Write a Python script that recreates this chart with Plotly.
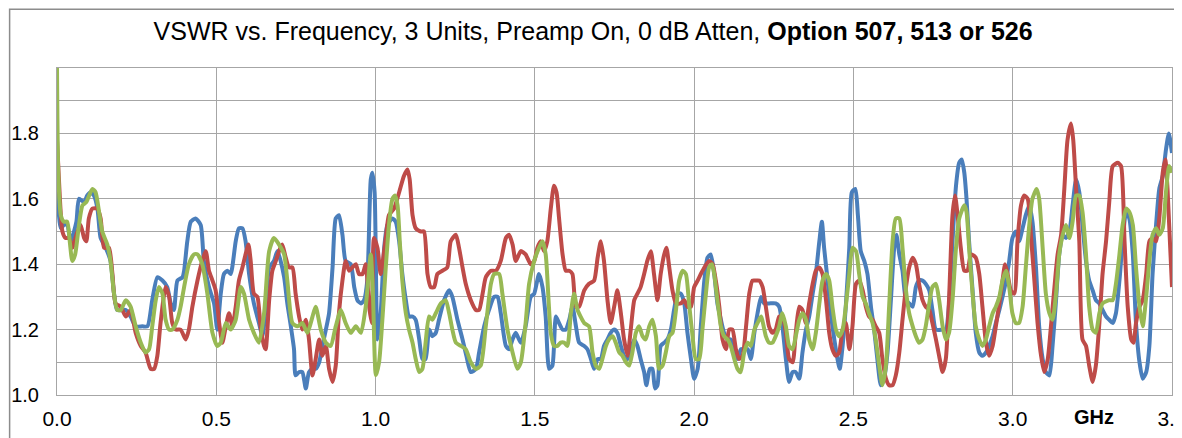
import plotly.graph_objects as go

# Excel-style palette
COLORS = {
    "blue": "#4A7EBB",
    "red": "#BE4B48",
    "green": "#98B954",
    "grid": "#A6A6A6",
    "frame": "#8C8C8C",
    "text": "#000000",
}

TITLE = "VSWR vs. Frequency, 3 Units, Preamp On, 0 dB Atten, <b>Option 507, 513 or 526</b>"

X_TICKS = [0.0, 0.5, 1.0, 1.5, 2.0, 2.5, 3.0, 3.5]
X_TICK_TEXT = ["0.0", "0.5", "1.0", "1.5", "2.0", "2.5", "3.0", "3.5"]
Y_TICKS = [1.0, 1.1, 1.2, 1.3, 1.4, 1.5, 1.6, 1.7, 1.8, 1.9, 2.0]
Y_TICK_TEXT = ["1.0", "", "1.2", "", "1.4", "", "1.6", "", "1.8", "", ""]

# Unit 1 (blue)
BLUE_GHZ = [
    0.000, 0.012, 0.022, 0.032, 0.043, 0.061, 0.069, 0.085, 0.095, 0.106, 0.116, 0.127, 0.137, 0.153,
    0.168, 0.179, 0.189, 0.216, 0.231, 0.247, 0.268, 0.284, 0.299, 0.315, 0.331, 0.346, 0.357, 0.367,
    0.378, 0.394, 0.399, 0.409, 0.420, 0.435, 0.451, 0.461, 0.477, 0.493, 0.503, 0.514, 0.524, 0.535,
    0.545, 0.561, 0.571, 0.582, 0.592, 0.603, 0.618, 0.634, 0.645, 0.655, 0.666, 0.681, 0.692, 0.702,
    0.713, 0.723, 0.734, 0.744, 0.749, 0.760, 0.770, 0.781, 0.791, 0.802, 0.812, 0.823, 0.833, 0.844,
    0.854, 0.865, 0.875, 0.885, 0.896, 0.906, 0.922, 0.933, 0.943, 0.954, 0.964, 0.974, 0.985, 0.990,
    0.997, 1.006, 1.016, 1.027, 1.037, 1.053, 1.063, 1.074, 1.084, 1.095, 1.105, 1.116, 1.126, 1.137,
    1.147, 1.157, 1.168, 1.178, 1.189, 1.199, 1.215, 1.231, 1.241, 1.257, 1.273, 1.285, 1.299, 1.315,
    1.325, 1.341, 1.356, 1.372, 1.383, 1.393, 1.409, 1.419, 1.430, 1.440, 1.456, 1.471, 1.487, 1.498,
    1.513, 1.524, 1.534, 1.545, 1.555, 1.566, 1.576, 1.587, 1.597, 1.608, 1.618, 1.629, 1.639, 1.655,
    1.665, 1.676, 1.686, 1.697, 1.707, 1.717, 1.728, 1.738, 1.749, 1.759, 1.770, 1.780, 1.791, 1.801,
    1.812, 1.822, 1.832, 1.843, 1.850, 1.861, 1.869, 1.877, 1.885, 1.895, 1.906, 1.916, 1.927, 1.937,
    1.948, 1.958, 1.969, 1.979, 1.990, 2.000, 2.011, 2.021, 2.032, 2.042, 2.052, 2.063, 2.073, 2.084,
    2.094, 2.105, 2.115, 2.126, 2.136, 2.147, 2.157, 2.168, 2.178, 2.189, 2.199, 2.210, 2.220, 2.235,
    2.256, 2.267, 2.277, 2.288, 2.298, 2.309, 2.319, 2.330, 2.340, 2.351, 2.361, 2.372, 2.382, 2.393,
    2.401, 2.408, 2.419, 2.429, 2.440, 2.450, 2.457, 2.466, 2.476, 2.487, 2.495, 2.506, 2.514, 2.523,
    2.534, 2.544, 2.555, 2.565, 2.575, 2.586, 2.596, 2.607, 2.617, 2.628, 2.635, 2.644, 2.654, 2.665,
    2.675, 2.686, 2.696, 2.706, 2.717, 2.727, 2.738, 2.748, 2.759, 2.780, 2.790, 2.801, 2.811, 2.822,
    2.832, 2.840, 2.848, 2.855, 2.863, 2.874, 2.884, 2.895, 2.905, 2.916, 2.926, 2.937, 2.947, 2.958,
    2.968, 2.979, 2.989, 2.999, 3.010, 3.020, 3.031, 3.041, 3.052, 3.062, 3.073, 3.083, 3.094, 3.104,
    3.115, 3.125, 3.136, 3.146, 3.157, 3.167, 3.178, 3.188, 3.199, 3.209, 3.219, 3.230, 3.240, 3.251,
    3.261, 3.272, 3.282, 3.293, 3.303, 3.314, 3.324, 3.335, 3.345, 3.356, 3.366, 3.377, 3.387, 3.398,
    3.408, 3.419, 3.429, 3.439, 3.450, 3.460, 3.471, 3.481, 3.490, 3.500,
]
BLUE_VSWR = [
    1.66, 1.51, 1.52, 1.52, 1.47, 1.53, 1.60, 1.59, 1.61, 1.62, 1.61, 1.57, 1.48, 1.45,
    1.41, 1.31, 1.26, 1.26, 1.24, 1.21, 1.21, 1.21, 1.29, 1.36, 1.35, 1.33, 1.28, 1.26,
    1.35, 1.36, 1.38, 1.47, 1.53, 1.54, 1.52, 1.41, 1.33, 1.28, 1.20, 1.31, 1.37, 1.38,
    1.37, 1.47, 1.51, 1.51, 1.47, 1.37, 1.28, 1.22, 1.18, 1.27, 1.39, 1.41, 1.44, 1.41,
    1.36, 1.28, 1.21, 1.14, 1.06, 1.07, 1.07, 1.02, 1.07, 1.08, 1.08, 1.10, 1.15, 1.20,
    1.25, 1.39, 1.54, 1.55, 1.49, 1.41, 1.40, 1.33, 1.29, 1.28, 1.29, 1.35, 1.66, 1.68,
    1.62, 1.17, 1.25, 1.45, 1.52, 1.54, 1.53, 1.47, 1.37, 1.29, 1.24, 1.24, 1.23, 1.17,
    1.11, 1.11, 1.20, 1.18, 1.19, 1.23, 1.29, 1.32, 1.30, 1.23, 1.17, 1.12, 1.07, 1.08,
    1.13, 1.21, 1.26, 1.30, 1.30, 1.25, 1.15, 1.14, 1.17, 1.19, 1.16, 1.21, 1.30, 1.31,
    1.37, 1.33, 1.24, 1.08, 1.09, 1.24, 1.22, 1.20, 1.20, 1.23, 1.27, 1.21, 1.16, 1.15,
    1.14, 1.11, 1.08, 1.11, 1.11, 1.15, 1.17, 1.19, 1.20, 1.19, 1.15, 1.12, 1.11, 1.14,
    1.17, 1.15, 1.11, 1.07, 1.03, 1.08, 1.08, 1.02, 1.03, 1.15, 1.16, 1.17, 1.20, 1.26,
    1.31, 1.31, 1.28, 1.19, 1.11, 1.05, 1.08, 1.21, 1.35, 1.42, 1.43, 1.37, 1.28, 1.23,
    1.19, 1.17, 1.17, 1.15, 1.11, 1.14, 1.14, 1.14, 1.11, 1.19, 1.25, 1.30, 1.28, 1.28,
    1.28, 1.27, 1.21, 1.11, 1.04, 1.07, 1.07, 1.05, 1.13, 1.20, 1.24, 1.31, 1.37, 1.47,
    1.53, 1.45, 1.35, 1.25, 1.17, 1.11, 1.08, 1.15, 1.27, 1.45, 1.62, 1.63, 1.55, 1.44,
    1.41, 1.37, 1.27, 1.20, 1.11, 1.03, 1.05, 1.13, 1.28, 1.45, 1.49, 1.43, 1.38, 1.29,
    1.28, 1.27, 1.33, 1.35, 1.35, 1.34, 1.32, 1.26, 1.20, 1.20, 1.20, 1.29, 1.47, 1.64,
    1.71, 1.72, 1.68, 1.60, 1.47, 1.32, 1.19, 1.13, 1.12, 1.13, 1.15, 1.18, 1.22, 1.26,
    1.30, 1.35, 1.41, 1.48, 1.50, 1.47, 1.51, 1.55, 1.58, 1.53, 1.39, 1.21, 1.11, 1.07,
    1.06, 1.15, 1.29, 1.43, 1.49, 1.48, 1.50, 1.58, 1.66, 1.62, 1.52, 1.41, 1.35, 1.32,
    1.29, 1.28, 1.26, 1.24, 1.23, 1.22, 1.25, 1.35, 1.47, 1.56, 1.54, 1.43, 1.22, 1.10,
    1.05, 1.07, 1.15, 1.37, 1.52, 1.63, 1.67, 1.75, 1.80, 1.74,
]

# Unit 2 (red)
RED_GHZ = [
    0.000, 0.006, 0.017, 0.027, 0.038, 0.048, 0.061, 0.074, 0.085, 0.092, 0.100, 0.111, 0.127, 0.137,
    0.148, 0.163, 0.174, 0.184, 0.200, 0.216, 0.231, 0.247, 0.263, 0.278, 0.294, 0.305, 0.315, 0.325,
    0.341, 0.352, 0.362, 0.373, 0.388, 0.404, 0.414, 0.425, 0.441, 0.456, 0.467, 0.477, 0.488, 0.498,
    0.509, 0.519, 0.530, 0.540, 0.551, 0.561, 0.571, 0.582, 0.592, 0.601, 0.608, 0.618, 0.629, 0.639,
    0.650, 0.655, 0.666, 0.676, 0.687, 0.697, 0.707, 0.718, 0.728, 0.739, 0.749, 0.760, 0.770, 0.781,
    0.791, 0.802, 0.812, 0.823, 0.833, 0.844, 0.854, 0.865, 0.875, 0.885, 0.896, 0.906, 0.917, 0.927,
    0.938, 0.948, 0.959, 0.969, 0.980, 0.988, 0.995, 1.006, 1.016, 1.032, 1.042, 1.058, 1.074, 1.089,
    1.100, 1.107, 1.116, 1.126, 1.142, 1.152, 1.163, 1.173, 1.184, 1.194, 1.210, 1.225, 1.236, 1.252,
    1.262, 1.273, 1.283, 1.299, 1.315, 1.325, 1.336, 1.346, 1.362, 1.378, 1.393, 1.409, 1.419, 1.430,
    1.440, 1.456, 1.471, 1.487, 1.498, 1.508, 1.518, 1.529, 1.539, 1.550, 1.560, 1.568, 1.576, 1.587,
    1.597, 1.608, 1.618, 1.629, 1.639, 1.655, 1.670, 1.686, 1.697, 1.707, 1.717, 1.728, 1.738, 1.749,
    1.759, 1.770, 1.780, 1.791, 1.801, 1.812, 1.822, 1.832, 1.843, 1.853, 1.864, 1.874, 1.885, 1.895,
    1.906, 1.913, 1.922, 1.932, 1.943, 1.958, 1.969, 1.979, 1.990, 2.000, 2.011, 2.021, 2.032, 2.047,
    2.058, 2.068, 2.079, 2.089, 2.100, 2.110, 2.120, 2.131, 2.141, 2.152, 2.162, 2.173, 2.183, 2.194,
    2.204, 2.215, 2.225, 2.235, 2.246, 2.256, 2.267, 2.277, 2.288, 2.298, 2.309, 2.319, 2.330, 2.340,
    2.351, 2.361, 2.372, 2.382, 2.393, 2.403, 2.414, 2.424, 2.434, 2.445, 2.455, 2.466, 2.476, 2.487,
    2.497, 2.508, 2.518, 2.529, 2.539, 2.549, 2.560, 2.570, 2.581, 2.591, 2.602, 2.612, 2.623, 2.633,
    2.644, 2.654, 2.665, 2.675, 2.686, 2.696, 2.706, 2.717, 2.727, 2.738, 2.748, 2.759, 2.769, 2.780,
    2.790, 2.800, 2.811, 2.819, 2.827, 2.837, 2.848, 2.858, 2.869, 2.884, 2.895, 2.905, 2.916, 2.926,
    2.937, 2.947, 2.958, 2.968, 2.976, 2.984, 2.994, 3.005, 3.015, 3.026, 3.036, 3.047, 3.057, 3.068,
    3.078, 3.089, 3.099, 3.110, 3.120, 3.131, 3.141, 3.152, 3.162, 3.172, 3.183, 3.190, 3.199, 3.209,
    3.219, 3.230, 3.240, 3.251, 3.261, 3.272, 3.282, 3.293, 3.303, 3.314, 3.330, 3.340, 3.351, 3.361,
    3.372, 3.379, 3.387, 3.398, 3.408, 3.419, 3.429, 3.439, 3.450, 3.460, 3.471, 3.479, 3.486, 3.500,
]
RED_VSWR = [
    1.78, 1.66, 1.50, 1.48, 1.48, 1.45, 1.49, 1.52, 1.48, 1.47, 1.54, 1.57, 1.57, 1.54,
    1.45, 1.45, 1.37, 1.28, 1.27, 1.24, 1.26, 1.19, 1.15, 1.13, 1.08, 1.08, 1.12, 1.22,
    1.33, 1.30, 1.22, 1.20, 1.20, 1.17, 1.20, 1.27, 1.35, 1.41, 1.44, 1.38, 1.35, 1.32,
    1.22, 1.16, 1.21, 1.25, 1.21, 1.27, 1.35, 1.39, 1.43, 1.46, 1.41, 1.31, 1.30, 1.21,
    1.15, 1.14, 1.29, 1.38, 1.41, 1.44, 1.46, 1.42, 1.39, 1.39, 1.31, 1.24, 1.20, 1.23,
    1.17, 1.06, 1.11, 1.17, 1.12, 1.15, 1.08, 1.04, 1.09, 1.25, 1.35, 1.41, 1.38, 1.39,
    1.40, 1.37, 1.37, 1.40, 1.27, 1.22, 1.48, 1.45, 1.37, 1.48, 1.55, 1.57, 1.62, 1.67,
    1.69, 1.66, 1.55, 1.51, 1.50, 1.50, 1.37, 1.33, 1.33, 1.37, 1.38, 1.39, 1.47, 1.49,
    1.45, 1.39, 1.34, 1.29, 1.26, 1.26, 1.31, 1.36, 1.38, 1.38, 1.41, 1.48, 1.49, 1.46,
    1.41, 1.44, 1.43, 1.40, 1.41, 1.45, 1.47, 1.44, 1.47, 1.57, 1.64, 1.62, 1.54, 1.43,
    1.38, 1.38, 1.37, 1.27, 1.27, 1.32, 1.34, 1.35, 1.42, 1.47, 1.41, 1.29, 1.22, 1.27,
    1.32, 1.25, 1.17, 1.12, 1.20, 1.29, 1.31, 1.33, 1.37, 1.41, 1.44, 1.37, 1.29, 1.37,
    1.43, 1.45, 1.39, 1.32, 1.28, 1.28, 1.29, 1.27, 1.27, 1.33, 1.35, 1.37, 1.39, 1.41,
    1.40, 1.35, 1.27, 1.17, 1.14, 1.20, 1.20, 1.14, 1.11, 1.12, 1.20, 1.31, 1.35, 1.35,
    1.35, 1.33, 1.27, 1.21, 1.19, 1.20, 1.24, 1.24, 1.19, 1.11, 1.10, 1.19, 1.27, 1.26,
    1.22, 1.28, 1.34, 1.38, 1.39, 1.37, 1.29, 1.19, 1.14, 1.12, 1.13, 1.20, 1.22, 1.14,
    1.21, 1.34, 1.35, 1.32, 1.27, 1.24, 1.23, 1.21, 1.19, 1.11, 1.05, 1.03, 1.03, 1.06,
    1.13, 1.23, 1.33, 1.39, 1.42, 1.40, 1.34, 1.29, 1.27, 1.26, 1.22, 1.17, 1.12, 1.07,
    1.11, 1.29, 1.55, 1.61, 1.55, 1.45, 1.38, 1.38, 1.43, 1.42, 1.37, 1.27, 1.16, 1.12,
    1.15, 1.21, 1.28, 1.35, 1.40, 1.37, 1.32, 1.31, 1.47, 1.58, 1.61, 1.60, 1.49, 1.35,
    1.22, 1.12, 1.07, 1.11, 1.21, 1.33, 1.43, 1.49, 1.63, 1.78, 1.83, 1.78, 1.63, 1.47,
    1.17, 1.15, 1.09, 1.04, 1.09, 1.22, 1.37, 1.47, 1.59, 1.70, 1.71, 1.70, 1.47, 1.27,
    1.17, 1.16, 1.22, 1.27, 1.29, 1.37, 1.47, 1.48, 1.47, 1.54, 1.68, 1.72, 1.63, 1.33,
]

# Unit 3 (green)
GREEN_GHZ = [
    0.000, 0.004, 0.012, 0.022, 0.032, 0.040, 0.048, 0.057, 0.069, 0.080, 0.092, 0.111, 0.121, 0.132,
    0.142, 0.158, 0.168, 0.179, 0.189, 0.200, 0.216, 0.231, 0.247, 0.263, 0.278, 0.289, 0.299, 0.310,
    0.320, 0.331, 0.341, 0.352, 0.362, 0.378, 0.388, 0.399, 0.414, 0.430, 0.441, 0.456, 0.472, 0.488,
    0.503, 0.514, 0.530, 0.545, 0.561, 0.577, 0.587, 0.603, 0.618, 0.634, 0.650, 0.666, 0.681, 0.697,
    0.713, 0.723, 0.739, 0.755, 0.770, 0.786, 0.802, 0.812, 0.828, 0.844, 0.859, 0.875, 0.891, 0.906,
    0.922, 0.938, 0.954, 0.969, 0.985, 0.992, 1.001, 1.011, 1.022, 1.032, 1.042, 1.053, 1.061, 1.069,
    1.076, 1.084, 1.095, 1.105, 1.116, 1.126, 1.137, 1.147, 1.157, 1.168, 1.178, 1.189, 1.205, 1.220,
    1.231, 1.241, 1.252, 1.268, 1.283, 1.299, 1.315, 1.330, 1.346, 1.362, 1.372, 1.388, 1.398, 1.414,
    1.430, 1.445, 1.456, 1.471, 1.482, 1.498, 1.513, 1.524, 1.534, 1.543, 1.550, 1.560, 1.571, 1.581,
    1.592, 1.602, 1.613, 1.623, 1.634, 1.655, 1.670, 1.681, 1.691, 1.702, 1.712, 1.723, 1.733, 1.744,
    1.754, 1.765, 1.775, 1.786, 1.796, 1.806, 1.817, 1.827, 1.838, 1.848, 1.859, 1.869, 1.880, 1.890,
    1.901, 1.911, 1.922, 1.932, 1.943, 1.953, 1.964, 1.974, 1.984, 1.995, 2.005, 2.016, 2.026, 2.037,
    2.047, 2.056, 2.063, 2.073, 2.084, 2.094, 2.105, 2.115, 2.126, 2.136, 2.146, 2.157, 2.168, 2.178,
    2.189, 2.199, 2.210, 2.225, 2.235, 2.246, 2.256, 2.267, 2.277, 2.288, 2.298, 2.309, 2.319, 2.330,
    2.340, 2.351, 2.361, 2.372, 2.382, 2.393, 2.403, 2.414, 2.424, 2.434, 2.445, 2.455, 2.466, 2.476,
    2.487, 2.497, 2.508, 2.518, 2.529, 2.539, 2.549, 2.560, 2.570, 2.581, 2.591, 2.602, 2.612, 2.623,
    2.633, 2.644, 2.654, 2.665, 2.675, 2.686, 2.696, 2.706, 2.717, 2.727, 2.738, 2.748, 2.759, 2.769,
    2.780, 2.790, 2.800, 2.811, 2.822, 2.832, 2.848, 2.855, 2.863, 2.874, 2.884, 2.895, 2.905, 2.916,
    2.926, 2.937, 2.947, 2.958, 2.968, 2.979, 2.989, 2.999, 3.010, 3.020, 3.031, 3.041, 3.052, 3.062,
    3.075, 3.083, 3.094, 3.104, 3.115, 3.125, 3.136, 3.146, 3.157, 3.167, 3.178, 3.188, 3.199, 3.209,
    3.219, 3.230, 3.240, 3.251, 3.261, 3.272, 3.282, 3.303, 3.314, 3.324, 3.335, 3.345, 3.356, 3.366,
    3.377, 3.387, 3.398, 3.408, 3.419, 3.429, 3.439, 3.450, 3.460, 3.471, 3.481, 3.491, 3.500,
]
GREEN_VSWR = [
    2.00, 1.68, 1.55, 1.53, 1.53, 1.47, 1.41, 1.43, 1.52, 1.58, 1.59, 1.63, 1.62, 1.56,
    1.50, 1.46, 1.41, 1.31, 1.26, 1.26, 1.29, 1.27, 1.21, 1.16, 1.13, 1.14, 1.21, 1.29,
    1.33, 1.31, 1.23, 1.20, 1.20, 1.23, 1.27, 1.33, 1.40, 1.43, 1.43, 1.40, 1.31, 1.19,
    1.15, 1.16, 1.22, 1.20, 1.23, 1.33, 1.31, 1.23, 1.19, 1.16, 1.25, 1.44, 1.48, 1.46,
    1.43, 1.35, 1.22, 1.21, 1.22, 1.19, 1.24, 1.27, 1.20, 1.16, 1.15, 1.21, 1.26, 1.22,
    1.19, 1.21, 1.19, 1.27, 1.43, 1.30, 1.06, 1.10, 1.24, 1.39, 1.52, 1.60, 1.61, 1.58,
    1.47, 1.35, 1.25, 1.20, 1.16, 1.11, 1.07, 1.08, 1.16, 1.24, 1.23, 1.25, 1.28, 1.29,
    1.25, 1.20, 1.16, 1.15, 1.14, 1.10, 1.08, 1.09, 1.21, 1.34, 1.37, 1.37, 1.31, 1.20,
    1.13, 1.08, 1.10, 1.22, 1.34, 1.41, 1.45, 1.47, 1.43, 1.29, 1.19, 1.15, 1.15, 1.16,
    1.16, 1.15, 1.25, 1.31, 1.26, 1.22, 1.21, 1.13, 1.09, 1.08, 1.11, 1.15, 1.17, 1.18,
    1.16, 1.13, 1.12, 1.10, 1.09, 1.13, 1.19, 1.21, 1.18, 1.17, 1.21, 1.23, 1.18, 1.08,
    1.09, 1.13, 1.18, 1.19, 1.26, 1.35, 1.38, 1.37, 1.28, 1.18, 1.11, 1.11, 1.20, 1.31,
    1.39, 1.40, 1.37, 1.29, 1.21, 1.18, 1.17, 1.15, 1.11, 1.08, 1.07, 1.13, 1.16, 1.15,
    1.20, 1.22, 1.24, 1.18, 1.16, 1.16, 1.18, 1.21, 1.25, 1.21, 1.15, 1.14, 1.18, 1.23,
    1.25, 1.23, 1.17, 1.14, 1.19, 1.28, 1.35, 1.37, 1.35, 1.27, 1.20, 1.18, 1.20, 1.27,
    1.37, 1.45, 1.44, 1.37, 1.30, 1.28, 1.25, 1.22, 1.17, 1.09, 1.03, 1.09, 1.27, 1.47,
    1.54, 1.54, 1.45, 1.32, 1.25, 1.21, 1.18, 1.16, 1.17, 1.21, 1.28, 1.33, 1.34, 1.29,
    1.21, 1.17, 1.19, 1.29, 1.45, 1.54, 1.58, 1.56, 1.45, 1.31, 1.21, 1.17, 1.15, 1.17,
    1.21, 1.25, 1.27, 1.30, 1.35, 1.38, 1.33, 1.25, 1.22, 1.22, 1.27, 1.39, 1.52, 1.60,
    1.63, 1.60, 1.45, 1.31, 1.25, 1.23, 1.31, 1.43, 1.49, 1.52, 1.48, 1.53, 1.61, 1.61,
    1.56, 1.43, 1.27, 1.20, 1.19, 1.25, 1.28, 1.29, 1.29, 1.34, 1.43, 1.52, 1.57, 1.56,
    1.52, 1.39, 1.27, 1.21, 1.30, 1.41, 1.49, 1.51, 1.49, 1.51, 1.62, 1.70, 1.68,
]

SERIES = [
    ("Unit 1", BLUE_GHZ, BLUE_VSWR, COLORS["blue"]),
    ("Unit 2", RED_GHZ, RED_VSWR, COLORS["red"]),
    ("Unit 3", GREEN_GHZ, GREEN_VSWR, COLORS["green"]),
]

fig = go.Figure()

for name, xs, ys, color in SERIES:
    fig.add_trace(go.Scatter(
        x=xs,
        y=ys,
        mode="lines",
        name=name,
        line=dict(color=color, width=4, shape="spline", smoothing=0.6),
        hovertemplate=name + ": %{y:.2f} @ %{x:.3f} GHz<extra></extra>",
    ))

# the page body adds an 8px offset, so the margins are shifted to compensate
fig.update_layout(
    width=1182,
    height=438,
    margin=dict(l=49, r=18, t=60, b=51),
    paper_bgcolor="white",
    plot_bgcolor="white",
    showlegend=False,
    font=dict(family="Liberation Sans, Arial, sans-serif", color=COLORS["text"]),
    title=dict(
        text=TITLE,
        x=0.495,
        xref="container",
        xanchor="center",
        y=0.948,
        yref="container",
        yanchor="middle",
        font=dict(size=25, color="#000000"),
    ),
)

fig.update_xaxes(
    range=[0, 3.5],
    tickvals=X_TICKS,
    ticktext=X_TICK_TEXT,
    showgrid=True,
    gridcolor=COLORS["grid"],
    gridwidth=1,
    showline=True,
    linecolor=COLORS["grid"],
    linewidth=1,
    mirror=True,
    ticks="",
    ticklabelstandoff=5,
    ticklabeloverflow="allow",
    tickfont=dict(size=21),
    zeroline=False,
    automargin=False,
)
fig.update_yaxes(
    range=[1.0, 2.0],
    tickvals=Y_TICKS,
    ticktext=Y_TICK_TEXT,
    showgrid=True,
    gridcolor=COLORS["grid"],
    gridwidth=1,
    showline=True,
    linecolor=COLORS["grid"],
    linewidth=1,
    mirror=True,
    ticks="",
    ticklabelstandoff=13,
    tickfont=dict(size=20),
    zeroline=False,
    automargin=False,
)

# axis unit label sitting in the tick-label row
fig.add_annotation(
    x=3.256, xref="x",
    y=-0.067, yref="paper",
    text="<b>GHz</b>",
    showarrow=False,
    xanchor="center",
    yanchor="middle",
    font=dict(size=20, color="#000000"),
)

# chart-area frame (only its left and top edges fall inside the picture)
fig.add_shape(
    type="rect",
    xref="paper", yref="paper",
    x0=-0.0425, x1=1.2,
    y0=-0.5, y1=1.18,
    line=dict(color=COLORS["frame"], width=1.5),
    fillcolor="rgba(0,0,0,0)",
    layer="below",
)

fig.write_html("out.html")
